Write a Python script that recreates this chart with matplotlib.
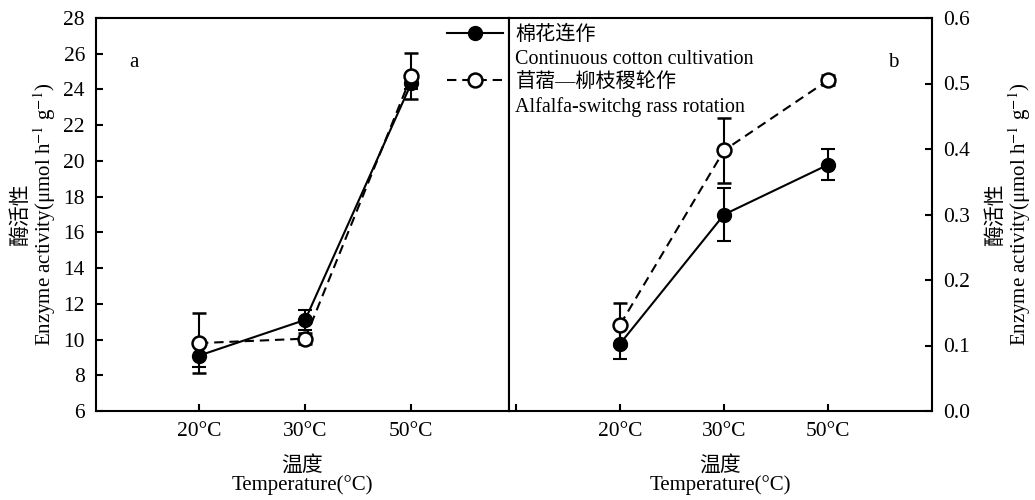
import matplotlib
matplotlib.use("Agg")
import matplotlib.pyplot as plt
from matplotlib.lines import Line2D

plt.rcParams['font.family'] = ['Liberation Serif', 'Noto Sans CJK SC']
plt.rcParams['mathtext.fontset'] = 'stix'
plt.rcParams['font.size'] = 15

categories = ['20°C', '30°C', '50°C']
legend_cn = ['棉花连作', '苜蓿—柳枝稷轮作']
legend_en = ['Continuous cotton cultivation', 'Alfalfa-switchg rass rotation']

a_cotton = [9.1, 11.1, 24.35]
a_cotton_err = [0.65, 0.55, 0.35]
a_rot = [9.8, 10.05, 24.75]
a_rot_err = [1.7, 0.3, 1.3]

b_cotton = [0.103, 0.300, 0.376]
b_cotton_err = [0.023, 0.041, 0.024]
b_rot = [0.132, 0.398, 0.505]
b_rot_err = [0.033, 0.050, 0.008]

a_yticks = list(range(6, 29, 2))
b_yticks = [0.0, 0.1, 0.2, 0.3, 0.4, 0.5, 0.6]

fig = plt.figure(figsize=(10.35, 5.0), dpi=100)
W, H = 1035, 500
axa = fig.add_axes([96 / W, 1 - 411 / H, (509 - 96) / W, (411 - 18) / H])
axb = fig.add_axes([509 / W, 1 - 411 / H, (932 - 509) / W, (411 - 18) / H])

x = [1, 2, 3]
ylab = '酶活性\nEnzyme activity(μmol h$^{-1}$ g$^{-1}$)'
xlab = '温度\nTemperature(°C)'
DASH = (0, (4.5, 2.8))

def draw(ax, c, ce, r, re):
    ax.errorbar(x, c, yerr=ce, color='black', lw=1.5, marker='o', ms=10,
                mfc='black', mec='black', capsize=5, elinewidth=1.5, capthick=1.5, zorder=3)
    eb = ax.errorbar(x, r, yerr=re, color='black', lw=1.5, marker='o', ms=10,
                     mfc='white', mec='black', mew=1.8, capsize=5, elinewidth=1.5, capthick=1.5, zorder=4)
    eb.lines[0].set_linestyle(DASH)
    for s in ax.spines.values():
        s.set_linewidth(1.5)
    ax.tick_params(direction='in', width=1.5, length=5, labelsize=15.5, pad=8)

draw(axa, a_cotton, a_cotton_err, a_rot, a_rot_err)
axa.set_xlim(0.03, 3.92)
axa.set_ylim(6, 28)
axa.set_yticks(a_yticks)
axa.set_xticks(x)
axa.set_xticklabels(categories)
axa.set_ylabel(ylab, fontsize=15, labelpad=4, linespacing=1.0)
axa.set_xlabel(xlab, fontsize=15, labelpad=11, linespacing=0.9)
axa.text(0.08, 0.875, 'a', transform=axa.transAxes, fontsize=15)

draw(axb, b_cotton, b_cotton_err, b_rot, b_rot_err)
axb.set_xlim(-0.07, 4.0)
axb.set_ylim(0, 0.6)
axb.set_yticks(b_yticks)
axb.set_yticklabels([f'{v:.1f}' for v in b_yticks])
axb.set_xticks([0, 1, 2, 3])
axb.set_xticklabels([''] + categories)
axb.yaxis.tick_right()
axb.yaxis.set_label_position('right')
axb.set_ylabel(ylab, fontsize=15, labelpad=12, linespacing=1.0)
axb.set_xlabel(xlab, fontsize=15, labelpad=11, linespacing=0.9)
axb.text(0.895, 0.875, 'b', transform=axb.transAxes, fontsize=15)

h1 = Line2D([], [], color='black', lw=1.5, marker='o', ms=10, mfc='black')
h2 = Line2D([], [], color='black', lw=1.5, ls=DASH, marker='o', ms=10, mfc='white', mew=1.8)
blank = Line2D([], [], color='none')
fig.legend([h1, blank, h2, blank],
           [legend_cn[0], legend_en[0], legend_cn[1], legend_en[1]],
           loc='upper left', bbox_to_anchor=(444 / W, 1 - 23 / H),
           frameon=False, fontsize=14.5, handlelength=2.8, handletextpad=0.6,
           labelspacing=0.22, borderaxespad=0, borderpad=0.15)

fig.savefig('out.png', dpi=100)
